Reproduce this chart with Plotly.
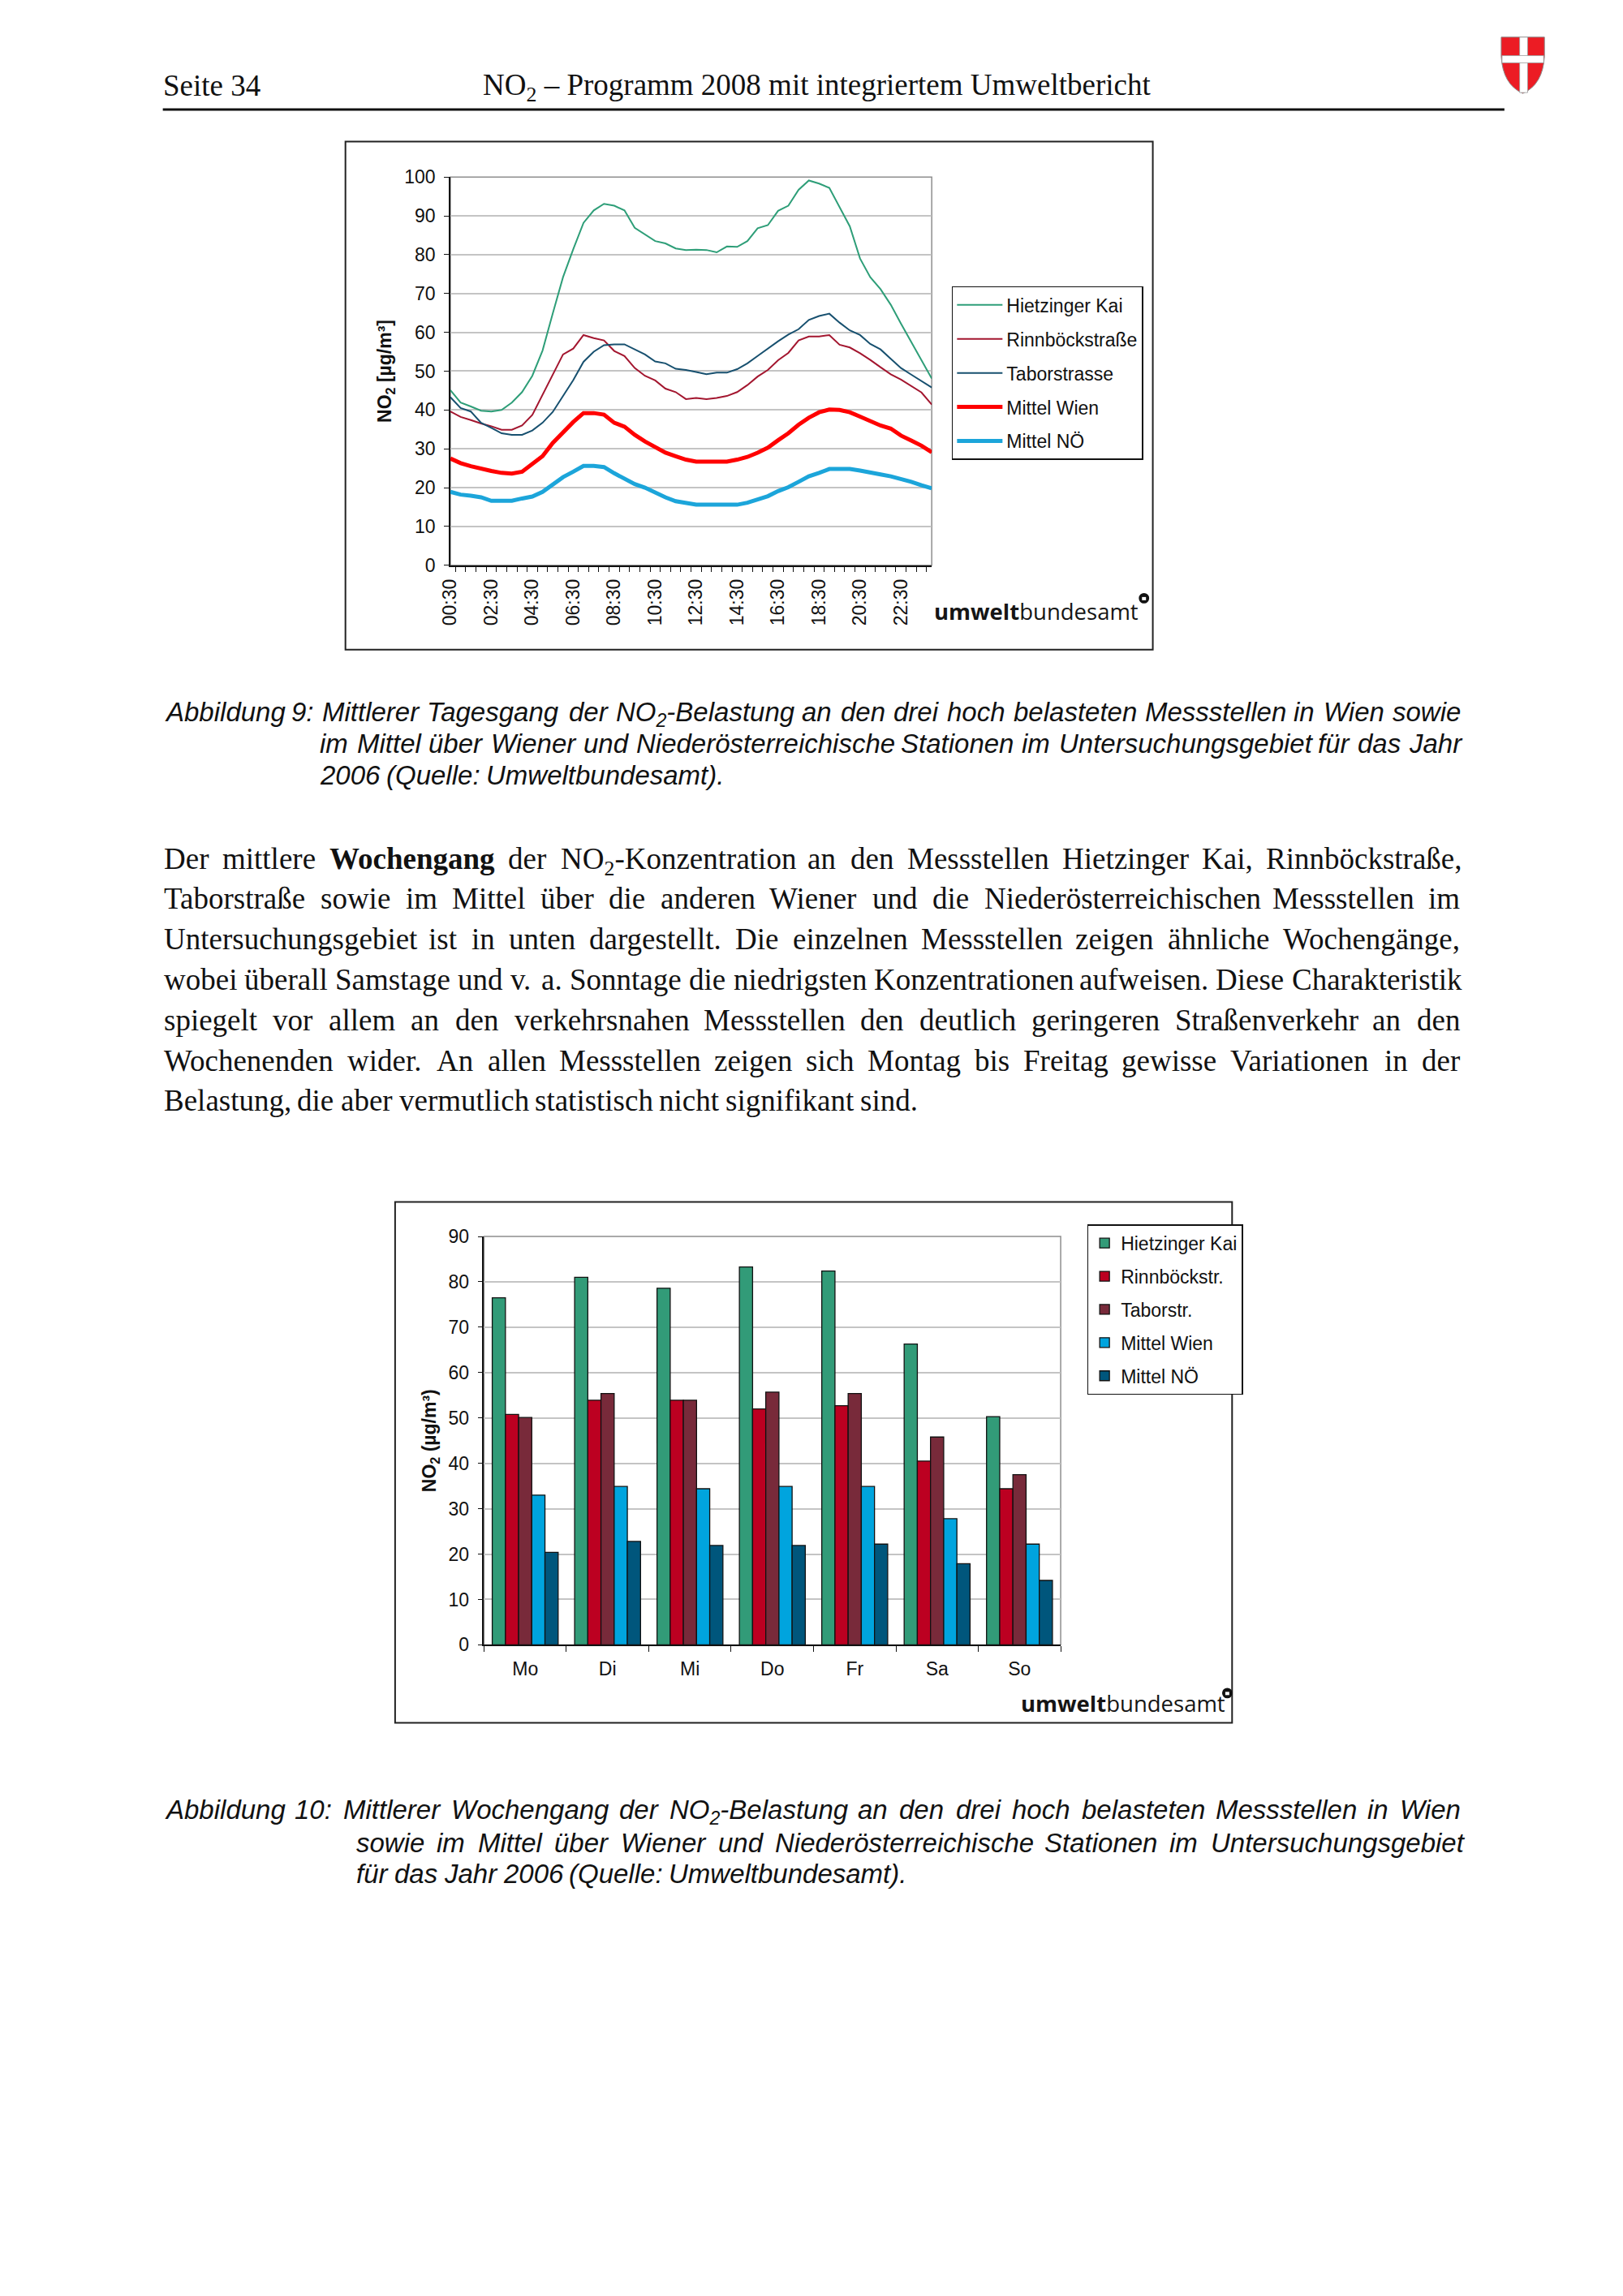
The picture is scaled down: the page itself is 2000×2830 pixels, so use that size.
import re
import plotly.graph_objects as go

W, H = 2000, 2830
OFF = 8  # the page body has an 8px margin; compensate so positions match the page


def px(x):
    return (x - OFF) / W


def py(y):
    return 1 - (y - OFF) / H


# ---------------- data: daily cycle (half-hourly) ----------------
time_labels = ["00:30", "01:00", "01:30", "02:00", "02:30", "03:00", "03:30", "04:00",
               "04:30", "05:00", "05:30", "06:00", "06:30", "07:00", "07:30", "08:00",
               "08:30", "09:00", "09:30", "10:00", "10:30", "11:00", "11:30", "12:00",
               "12:30", "13:00", "13:30", "14:00", "14:30", "15:00", "15:30", "16:00",
               "16:30", "17:00", "17:30", "18:00", "18:30", "19:00", "19:30", "20:00",
               "20:30", "21:00", "21:30", "22:00", "22:30", "23:00", "23:30", "24:00"]

hietzinger_kai = [45.1, 41.9, 40.9, 39.8, 39.6, 40.0, 41.9, 44.6, 48.8, 55.3, 64.9, 74.2,
                  81.4, 88.2, 91.4, 93.1, 92.6, 91.4, 86.9, 85.2, 83.5, 82.9, 81.6, 81.2,
                  81.3, 81.2, 80.6, 82.1, 82.0, 83.5, 86.8, 87.6, 91.3, 92.6, 96.7, 99.1,
                  98.3, 97.2, 92.1, 87.3, 79.0, 74.2, 71.1, 67.1, 62.2, 57.4, 52.9, 48.1]

rinnboeckstrasse = [39.6, 38.2, 37.4, 36.5, 35.8, 34.9, 34.9, 36.0, 38.7, 43.9, 49.4, 54.3,
                    55.8, 59.3, 58.5, 57.9, 55.2, 53.9, 50.8, 48.8, 47.6, 45.5, 44.6, 42.8,
                    43.1, 42.8, 43.1, 43.6, 44.6, 46.4, 48.6, 50.3, 52.8, 54.7, 57.9, 58.9,
                    58.9, 59.3, 56.8, 56.1, 54.6, 52.9, 51.0, 49.2, 47.8, 46.2, 44.5, 41.4]

taborstrasse = [43.3, 40.5, 39.6, 36.7, 35.4, 34.0, 33.6, 33.6, 34.7, 36.7, 39.5, 43.6,
                47.7, 52.4, 55.0, 56.7, 56.9, 56.9, 55.6, 54.3, 52.5, 52.0, 50.6, 50.3,
                49.8, 49.2, 49.6, 49.6, 50.5, 52.0, 53.9, 55.8, 57.7, 59.4, 60.8, 63.2,
                64.2, 64.8, 62.5, 60.5, 59.3, 57.0, 55.6, 53.2, 50.8, 49.1, 47.4, 45.8]

mittel_wien = [27.5, 26.3, 25.5, 24.8, 24.3, 23.8, 23.6, 24.1, 26.0, 28.1, 31.5, 34.3,
               36.9, 39.2, 39.2, 38.8, 36.7, 35.7, 33.6, 31.9, 30.5, 29.0, 28.1, 27.2,
               26.7, 26.7, 26.7, 26.7, 27.2, 27.9, 29.0, 30.3, 32.2, 34.0, 36.2, 38.0,
               39.4, 40.1, 40.0, 39.4, 38.3, 37.2, 36.0, 35.2, 33.4, 32.1, 30.8, 29.1]

mittel_noe = [18.9, 18.2, 17.9, 17.5, 16.6, 16.6, 16.6, 17.2, 17.7, 18.9, 20.8, 22.7,
              24.1, 25.6, 25.6, 25.3, 23.7, 22.3, 20.9, 20.0, 18.7, 17.5, 16.5, 16.1,
              15.6, 15.6, 15.6, 15.6, 15.6, 16.1, 17.0, 17.8, 19.1, 20.1, 21.5, 22.9,
              23.8, 24.8, 24.8, 24.8, 24.4, 23.8, 23.4, 22.9, 22.3, 21.5, 20.6, 19.8]

line_names = ["Hietzinger Kai", "Rinnböckstraße", "Taborstrasse", "Mittel Wien", "Mittel NÖ"]
y_ticks_day = [0, 10, 20, 30, 40, 50, 60, 70, 80, 90, 100]

# ---------------- data: weekly cycle ----------------
days = ["Mo", "Di", "Mi", "Do", "Fr", "Sa", "So"]
week_hietzinger = [76.5, 81.0, 78.6, 83.3, 82.4, 66.3, 50.3]
week_rinnboeck = [50.8, 53.9, 53.9, 52.0, 52.7, 40.5, 34.4]
week_tabor = [50.1, 55.4, 53.9, 55.7, 55.4, 45.8, 37.5]
week_wien = [33.0, 34.9, 34.4, 34.9, 34.9, 27.8, 22.2]
week_noe = [20.4, 22.8, 21.9, 21.9, 22.2, 17.9, 14.2]
bar_names = ["Hietzinger Kai", "Rinnböckstr.", "Taborstr.", "Mittel Wien", "Mittel NÖ"]
y_ticks_week = [0, 10, 20, 30, 40, 50, 60, 70, 80, 90]

# ---------------- styles ----------------
SANS = "Liberation Sans"
SERIF = "Liberation Serif"
line_colors = ["#2E9E78", "#A3162F", "#17506F", "#FF0000", "#1CA5DA"]
line_widths = [2, 2, 2, 5, 5]
bar_colors = ["#329B78", "#BC0021", "#782A3A", "#00A4DE", "#00567C"]

fig = go.Figure()

series_day = [hietzinger_kai, rinnboeckstrasse, taborstrasse, mittel_wien, mittel_noe]
for name, vals, col, lw in zip(line_names, series_day, line_colors, line_widths):
    fig.add_trace(go.Scatter(x=time_labels, y=vals, mode="lines", name=name,
                             line=dict(color=col, width=lw),
                             xaxis="x", yaxis="y", legend="legend", legendgroup=name))

series_week = [week_hietzinger, week_rinnboeck, week_tabor, week_wien, week_noe]
for name, vals, col in zip(bar_names, series_week, bar_colors):
    fig.add_trace(go.Bar(x=days, y=vals, name=name,
                         marker=dict(color=col, line=dict(color="#111111", width=1.3)),
                         xaxis="x2", yaxis="y2", legend="legend2", legendgroup="w" + name))

tick_font = dict(family=SANS, size=23, color="#111111")
tick_text_day = [lab if i % 4 == 0 else " " for i, lab in enumerate(time_labels)]

fig.update_layout(
    width=W, height=H, autosize=False,
    margin=dict(l=0, r=0, t=0, b=0),
    paper_bgcolor="white", plot_bgcolor="white",
    barmode="group", bargap=0.2, bargroupgap=0,
    showlegend=True,
    xaxis=dict(domain=[px(548), px(1149)], anchor="y", type="category",
               tickmode="array", tickvals=time_labels, ticktext=tick_text_day,
               tickangle=-90, tickson="boundaries", ticks="outside", ticklen=7,
               tickcolor="#111111", tickwidth=1.3, ticklabelstandoff=6,
               showline=True, linecolor="#111111", linewidth=1.5,
               showgrid=False, zeroline=False, tickfont=tick_font, fixedrange=True),
    yaxis=dict(domain=[py(690), py(207)], anchor="x", range=[0, 100],
               tickmode="array", tickvals=y_ticks_day,
               ticks="outside", ticklen=6, tickcolor="#111111", tickwidth=1.3,
               ticklabelstandoff=6,
               showline=True, linecolor="#111111", linewidth=1.5,
               showgrid=True, gridcolor="#C4C4C4", gridwidth=1.5, zeroline=False,
               tickfont=tick_font, fixedrange=True,
               title=dict(text="<b>NO<sub>2</sub> [µg/m³]</b>", standoff=9,
                          font=dict(family=SANS, size=23, color="#111111"))),
    xaxis2=dict(domain=[px(590), px(1310)], anchor="y2", type="category",
                tickson="boundaries", ticks="outside", ticklen=7,
                tickcolor="#111111", tickwidth=1.3, ticklabelstandoff=8,
                showline=True, linecolor="#111111", linewidth=1.5,
                showgrid=False, zeroline=False, tickfont=tick_font, fixedrange=True),
    yaxis2=dict(domain=[py(2033), py(1525)], anchor="x2", range=[0, 90],
                tickmode="array", tickvals=y_ticks_week,
                ticks="outside", ticklen=6, tickcolor="#111111", tickwidth=1.3,
                ticklabelstandoff=6,
                showline=True, linecolor="#111111", linewidth=1.5,
                showgrid=True, gridcolor="#C4C4C4", gridwidth=1.5, zeroline=False,
                tickfont=tick_font, fixedrange=True,
                title=dict(text="<b>NO<sub>2</sub> (µg/m³)</b>", standoff=8,
                           font=dict(family=SANS, size=23, color="#111111"))),
    legend=dict(x=px(1174), y=py(343), xanchor="left", yanchor="top",
                bgcolor="white", bordercolor="#111111", borderwidth=1.5,
                font=dict(family=SANS, size=23, color="#111111"),
                tracegroupgap=9, itemwidth=56, traceorder="grouped"),
    legend2=dict(x=px(1343), y=py(1510), xanchor="left", yanchor="top",
                 bgcolor="white", bordercolor="#111111", borderwidth=1.5,
                 font=dict(family=SANS, size=23, color="#111111"),
                 tracegroupgap=8, itemwidth=30, traceorder="grouped"),
)

shapes = []
# header rule
shapes.append(dict(type="line", xref="paper", yref="paper", x0=px(189), x1=px(1864),
                   y0=py(123), y1=py(123), line=dict(color="#111111", width=3)))
# chart frames
shapes.append(dict(type="rect", xref="paper", yref="paper", x0=px(417), x1=px(1425),
                   y0=py(795), y1=py(163), line=dict(color="#222222", width=2)))
shapes.append(dict(type="rect", xref="paper", yref="paper", x0=px(479), x1=px(1524),
                   y0=py(2130), y1=py(1482), line=dict(color="#222222", width=2)))
# plot-area borders (grey)
for xr, yr in (("x", "y"), ("x2", "y2")):
    shapes.append(dict(type="rect", xref=xr + " domain", yref=yr + " domain",
                       x0=0, x1=1, y0=0, y1=1, layer="below",
                       line=dict(color="#8E8E8E", width=1.5)))


# Vienna coat of arms (shield with cross)
def P(x, y):
    return f"{px(x):.5f},{py(y):.5f}"


shield = (f"M{P(1860, 33)} L{P(1914, 33)} L{P(1914, 57)} "
          f"Q{P(1912, 92)} {P(1887, 103)} Q{P(1862, 92)} {P(1860, 57)} Z")
shapes.append(dict(type="path", xref="paper", yref="paper", path=shield,
                   fillcolor="#EC1C24", line=dict(color="#8A8A8A", width=1)))
shapes.append(dict(type="rect", xref="paper", yref="paper", x0=px(1883), x1=px(1893),
                   y0=py(102), y1=py(33), fillcolor="white",
                   line=dict(color="#9A9A9A", width=0.8)))
shapes.append(dict(type="rect", xref="paper", yref="paper", x0=px(1861), x1=px(1913),
                   y0=py(65), y1=py(56), fillcolor="white",
                   line=dict(color="#9A9A9A", width=0.8)))
shapes.append(dict(type="rect", xref="paper", yref="paper", x0=px(1883.6), x1=px(1892.4),
                   y0=py(64.5), y1=py(56.5), fillcolor="white", line=dict(width=0)))

# umweltbundesamt mark circles
for cx, cy in ((1414, 731), (1518, 2093)):
    shapes.append(dict(type="circle", xref="paper", yref="paper",
                       x0=px(cx - 6.5), x1=px(cx + 6.5), y0=py(cy + 6.5), y1=py(cy - 6.5),
                       fillcolor="#111111", line=dict(width=0)))
    shapes.append(dict(type="rect", xref="paper", yref="paper",
                       x0=px(cx - 2.5), x1=px(cx + 2.5), y0=py(cy + 2.5), y1=py(cy - 1.5),
                       fillcolor="white", line=dict(width=0)))

fig.update_layout(shapes=shapes)

# ---------------- text helpers (word placement for justified lines) ----------------
TIMES = {' ': 250, ',': 250, '.': 250, ':': 278, '-': 333, '(': 333, ')': 333, '–': 500}
TIMES.update({c: 500 for c in "0123456789"})
TIMES.update(dict(zip("abcdefghijklmnopqrstuvwxyz",
                      [444, 500, 444, 500, 444, 333, 500, 500, 278, 278, 500, 278, 778,
                       500, 500, 500, 500, 333, 389, 278, 500, 500, 722, 500, 500, 444])))
TIMES.update(dict(zip("ABCDEFGHIJKLMNOPQRSTUVWXYZ",
                      [722, 667, 667, 722, 611, 556, 722, 722, 333, 389, 722, 611, 889,
                       722, 722, 556, 722, 667, 556, 611, 722, 722, 944, 722, 722, 611])))
TIMES.update({'ä': 444, 'ö': 500, 'ü': 500, 'ß': 500, 'Ä': 722, 'Ö': 722, 'Ü': 722})
TIMES_B = dict(TIMES)
TIMES_B.update(dict(zip("abcdefghijklmnopqrstuvwxyz",
                        [500, 556, 444, 556, 444, 333, 500, 556, 278, 333, 556, 278, 833,
                         556, 500, 556, 556, 444, 389, 333, 556, 500, 722, 500, 500, 444])))
TIMES_B.update({'W': 1000})
ARIAL = {' ': 278, ',': 278, '.': 278, ':': 278, '-': 333, '(': 333, ')': 333}
ARIAL.update({c: 556 for c in "0123456789"})
ARIAL.update(dict(zip("abcdefghijklmnopqrstuvwxyz",
                      [556, 556, 500, 556, 556, 278, 556, 556, 222, 222, 500, 222, 833,
                       556, 556, 556, 556, 333, 500, 278, 556, 500, 722, 500, 500, 500])))
ARIAL.update(dict(zip("ABCDEFGHIJKLMNOPQRSTUVWXYZ",
                      [667, 667, 722, 722, 667, 611, 778, 722, 278, 500, 667, 556, 833,
                       722, 778, 667, 778, 722, 667, 611, 722, 667, 944, 667, 667, 611])))
ARIAL.update({'ä': 556, 'ö': 556, 'ü': 556, 'ß': 611, 'Ö': 778, 'Ä': 667, 'Ü': 722})


def word_width(word, size, table, bold_table=None):
    total = 0.0
    for m in re.finditer(r"<(b|sub)>(.*?)</\1>|([^<]+)", word):
        if m.group(3):
            total += sum(table.get(c, 500) for c in m.group(3)) * size / 1000
        elif m.group(1) == "b":
            total += sum((bold_table or table).get(c, 500) for c in m.group(2)) * size / 1000
        else:
            total += sum(table.get(c, 500) for c in m.group(2)) * size * 0.7 / 1000
    return total


annotations = []


def text_ann(text, x, yc, size, family, style="normal", color="#111111"):
    # words with a subscript get a taller box; compensate so the baseline stays put
    dy = 0.075 * size if "<sub>" in text else 0
    return dict(text=text, x=px(x), y=py(yc + dy), xref="paper", yref="paper",
                xanchor="left", yanchor="middle", showarrow=False, borderpad=0,
                font=dict(family=family, size=size, color=color, style=style))


def place_line(text, left, right, yc, size, family, table, justify, style="normal",
               bold_table=None):
    words = text.split(" ")
    widths = [word_width(w, size, table, bold_table) for w in words]
    if justify and len(words) > 1:
        gap = (right - left - sum(widths)) / (len(words) - 1)
    else:
        gap = table[' '] * size / 1000
    x = left
    for w, wd in zip(words, widths):
        annotations.append(text_ann(w, x - 1, yc, size, family, style))
        x += wd + gap


# header
annotations.append(text_ann("Seite 34", 188, 93, 37, SERIF))
annotations.append(text_ann("NO<sub>2</sub> – Programm 2008 mit integriertem Umweltbericht",
                            588, 93, 37, SERIF))

# caption figure 9
cap9 = ["Abbildung 9: Mittlerer Tagesgang der NO<sub>2</sub>-Belastung an den drei hoch belasteten Messstellen in Wien sowie",
        "im Mittel über Wiener und Niederösterreichische Stationen im Untersuchungsgebiet für das Jahr",
        "2006 (Quelle: Umweltbundesamt)."]
cap9_y = [872, 912, 951]
cap9_left = [191, 385, 385]
for i, (t, yc, lf) in enumerate(zip(cap9, cap9_y, cap9_left)):
    place_line(t, lf, 1809, yc, 33, SANS, ARIAL, justify=(i < 2), style="italic")

# paragraph
para = ["Der mittlere <b>Wochengang</b> der NO<sub>2</sub>-Konzentration an den Messstellen Hietzinger Kai, Rinnböckstraße,",
        "Taborstraße sowie im Mittel über die anderen Wiener und die Niederösterreichischen Messstellen im",
        "Untersuchungsgebiet ist in unten dargestellt. Die einzelnen Messstellen zeigen ähnliche Wochengänge,",
        "wobei überall Samstage und v. a. Sonntage die niedrigsten Konzentrationen aufweisen. Diese Charakteristik",
        "spiegelt vor allem an den verkehrsnahen Messstellen den deutlich geringeren Straßenverkehr an den",
        "Wochenenden wider. An allen Messstellen zeigen sich Montag bis Freitag gewisse Variationen in der",
        "Belastung, die aber vermutlich statistisch nicht signifikant sind."]
para_y = [1055, 1105, 1155, 1206, 1256, 1306, 1356]
for i, (t, yc) in enumerate(zip(para, para_y)):
    place_line(t, 190, 1808, yc, 37, SERIF, TIMES, justify=(i < len(para) - 1),
               bold_table=TIMES_B)

# caption figure 10
cap10 = ["Abbildung 10: Mittlerer Wochengang der NO<sub>2</sub>-Belastung an den drei hoch belasteten Messstellen in Wien",
         "sowie im Mittel über Wiener und Niederösterreichische Stationen im Untersuchungsgebiet",
         "für das Jahr 2006 (Quelle: Umweltbundesamt)."]
cap10_y = [2238, 2279, 2318]
cap10_left = [191, 430, 430]
for i, (t, yc, lf) in enumerate(zip(cap10, cap10_y, cap10_left)):
    place_line(t, lf, 1809, yc, 33, SANS, ARIAL, justify=(i < 2), style="italic")

# umweltbundesamt logo text
for lx, yc in ((1151, 747), (1259, 2106)):
    annotations.append(text_ann("<b>umwelt</b>bundesamt", lx, yc, 27.5, "Open Sans",
                                color="#151515"))

fig.update_layout(annotations=annotations)

fig.write_html("out.html", config={"displayModeBar": False})
